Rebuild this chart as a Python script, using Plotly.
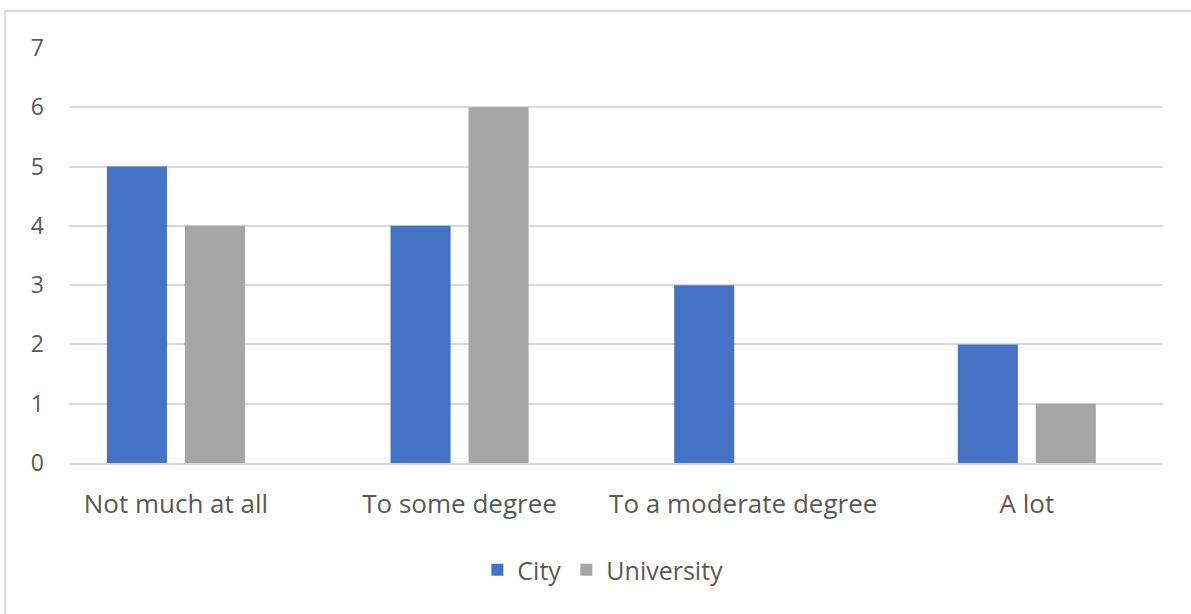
import plotly.graph_objects as go

# Survey responses by group
categories = ["Not much at all", "To some degree", "To a moderate degree", "A lot"]
city = [5, 4, 3, 2]
university = [4, 6, 0, 1]
y_ticks = [0, 1, 2, 3, 4, 5, 6, 7]

TEXT = "#595959"
GRID = "#D9D9D9"
FONT = "Open Sans, Noto Sans, sans-serif"

fig = go.Figure()
fig.add_trace(go.Bar(name="City", x=categories, y=city,
                     marker=dict(color="#4472C4", line=dict(width=0))))
fig.add_trace(go.Bar(name="University", x=categories, y=university,
                     marker=dict(color="#A5A5A5", line=dict(width=0))))

# outer chart frame (partly beyond the page edges)
fig.add_shape(type="rect", xref="paper", yref="paper",
              x0=-0.0585, x1=1.2, y0=-0.6, y1=1.089,
              line=dict(color=GRID, width=2), fillcolor="rgba(0,0,0,0)",
              layer="below")

fig.update_layout(
    width=1191, height=614,
    margin=dict(l=69, r=28, t=48, b=151),
    paper_bgcolor="white", plot_bgcolor="white",
    barmode="group", bargap=0.45, bargroupgap=0.23,
    font=dict(family=FONT, color=TEXT, size=24),
    showlegend=True,
    legend=dict(orientation="h", x=0.488, xanchor="center",
                y=-0.258, yanchor="middle",
                font=dict(size=25, color=TEXT), itemwidth=30,
                traceorder="normal"),
)
fig.update_xaxes(
    type="category", range=[-0.377, 3.48],
    showgrid=False, showline=True, linecolor=GRID, linewidth=2,
    ticks="", tickfont=dict(size=26, color=TEXT),
    ticklabelstandoff=17,
)
fig.update_yaxes(
    range=[0, 7], tickvals=y_ticks,
    showgrid=True, gridcolor=GRID, gridwidth=2,
    zeroline=False, showline=False, ticks="",
    tickfont=dict(size=23, color=TEXT),
    ticklabelstandoff=24,
)

fig.write_html("out.html")
